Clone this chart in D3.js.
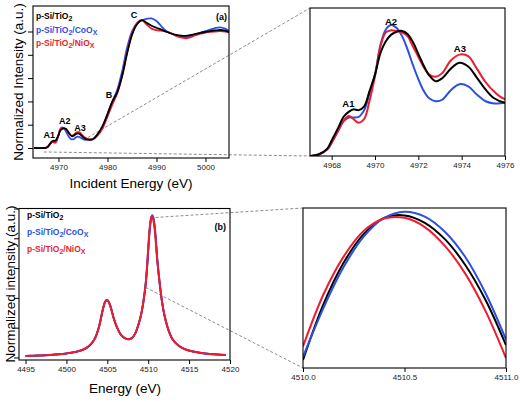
<!DOCTYPE html>
<html><head><meta charset="utf-8">
<script src="https://cdn.jsdelivr.net/npm/d3@7"></script>
<style>
body{margin:0;background:#fff}
svg{display:block;font-family:"Liberation Sans",Arial,Helvetica,sans-serif}
</style>
</head><body><svg id="c" width="520" height="402"></svg>
<script>
// ---------- DATA ----------
const seriesNames = ["p-Si/TiO2", "p-Si/TiO2/CoOx", "p-Si/TiO2/NiOx"];
const seriesColors = ["#000000", "#2b4fe3", "#ee1c2e"];

// Ti K-edge XANES (panel a / zoom)
const tiEnergy = [4965, 4967.0, 4967.4, 4967.8, 4968.0, 4968.3, 4968.55, 4968.8, 4969.0, 4969.25, 4969.5, 4969.75,
  4970.0, 4970.25, 4970.5, 4970.75, 4971.0, 4971.25, 4971.5, 4971.75, 4972.0, 4972.25, 4972.5, 4972.8, 4973.1,
  4973.5, 4973.9, 4974.3, 4974.7, 4975.1, 4975.5, 4976.0,
  4977, 4978, 4979, 4980, 4981, 4982, 4983, 4984, 4985, 4986, 4987, 4988, 4989, 4990, 4991, 4992, 4993, 4994,
  4995, 4996, 4997, 4998, 4999, 5000, 5001, 5002, 5003, 5004, 5005];
const tiBlack = [0, 0, 0.002, 0.010, 0.021, 0.038, 0.053, 0.060, 0.063, 0.062, 0.067, 0.088,
  0.110, 0.139, 0.155, 0.164, 0.168, 0.169, 0.165, 0.154, 0.138, 0.122, 0.109, 0.101, 0.105,
  0.118, 0.126, 0.121, 0.106, 0.090, 0.078, 0.072,
  0.075, 0.12, 0.19, 0.29, 0.40, 0.48, 0.62, 0.81, 0.97, 1.06, 1.098, 1.075, 1.05, 1.032, 1.016, 0.998, 0.983, 0.972,
  0.964, 0.963, 0.970, 0.980, 0.989, 0.996, 1.003, 1.009, 1.013, 1.008, 0.99];
const tiBlue = [0, 0, 0.002, 0.009, 0.018, 0.034, 0.047, 0.052, 0.052, 0.053, 0.062, 0.085,
  0.110, 0.150, 0.171, 0.177, 0.173, 0.162, 0.144, 0.123, 0.104, 0.088, 0.078, 0.074, 0.076,
  0.089, 0.097, 0.094, 0.083, 0.074, 0.071, 0.072,
  0.073, 0.11, 0.18, 0.29, 0.40, 0.50, 0.66, 0.86, 1.0, 1.07, 1.095, 1.108, 1.113, 1.09, 1.045, 1.005, 0.985, 0.966,
  0.953, 0.951, 0.958, 0.975, 0.99, 1.003, 1.017, 1.03, 1.036, 1.025, 0.998];
const tiRed = [0, 0, 0.002, 0.009, 0.018, 0.034, 0.048, 0.054, 0.050, 0.045, 0.050, 0.075,
  0.108, 0.148, 0.167, 0.170, 0.169, 0.167, 0.162, 0.148, 0.134, 0.120, 0.110, 0.107, 0.112,
  0.129, 0.137, 0.135, 0.118, 0.100, 0.087, 0.077,
  0.078, 0.11, 0.17, 0.27, 0.375, 0.47, 0.62, 0.82, 0.98, 1.07, 1.097, 1.06, 1.025, 1.012, 1.007, 1.0, 0.983, 0.962,
  0.95, 0.942, 0.952, 0.968, 0.982, 0.99, 0.996, 1.0, 1.004, 1.0, 0.99];

// Ti K-beta emission (panel b) - shared wings + series-specific top of main peak
const kbEnergy = [4495, 4496, 4497, 4498, 4499, 4500, 4501, 4502, 4502.5, 4503, 4503.5, 4504, 4504.4, 4504.7,
  4504.9, 4505.1, 4505.4, 4505.8, 4506.2, 4506.7, 4507.2, 4507.6, 4508.0, 4508.4, 4508.8, 4509.1, 4509.4,
  4509.7, 4509.85, 4511.15, 4511.4, 4511.7, 4512.0, 4512.5, 4513.0, 4513.7, 4514.5, 4515.5, 4516.5, 4517.5,
  4518.5, 4519.5];
const kbValue = [0.010, 0.012, 0.014, 0.017, 0.021, 0.027, 0.036, 0.052, 0.066, 0.09, 0.13, 0.21, 0.31, 0.37,
  0.385, 0.38, 0.34, 0.26, 0.20, 0.15, 0.128, 0.122, 0.13, 0.16, 0.22, 0.28, 0.37,
  0.50, 0.60, 0.63, 0.50, 0.37, 0.28, 0.18, 0.12, 0.08, 0.055, 0.04, 0.03, 0.024,
  0.02, 0.017];
const zoomEnergy = [4510.0, 4510.1, 4510.2, 4510.3, 4510.4, 4510.5, 4510.6, 4510.7, 4510.8, 4510.9, 4511.0];
const zoomBlack = [0.713, 0.803, 0.871, 0.918, 0.944, 0.948, 0.936, 0.909, 0.867, 0.810, 0.737];
const zoomBlue  = [0.718, 0.797, 0.864, 0.914, 0.944, 0.954, 0.946, 0.921, 0.880, 0.821, 0.746];
const zoomRed   = [0.735, 0.819, 0.881, 0.923, 0.943, 0.944, 0.929, 0.898, 0.853, 0.792, 0.716];

const ticksA = [4970, 4980, 4990, 5000];
const ticksR = [4968, 4970, 4972, 4974, 4976];
const ticksB = [4495, 4500, 4505, 4510, 4515, 4520];
const ticksD = [4510.0, 4510.5, 4511.0];
const yTicks = [0, 0.2, 0.4, 0.6, 0.8, 1.0];

// peak annotations [label, energy, intensity]
const labelsA = [["A1", 4968.1, 0.082], ["A2", 4971.3, 0.21], ["A3", 4974.4, 0.15], ["B", 4980.3, 0.433], ["C", 4985.4, 1.112]];
const labelsR = [["A1", 4968.77, 0.066], ["A2", 4970.74, 0.177], ["A3", 4973.92, 0.1405]];

// ---------- DRAW ----------
const svg = d3.select("#c");
const font = '"Liberation Sans",Arial,Helvetica,sans-serif';

const xA = d3.scaleLinear([4964.8, 5004.8], [33, 229]);
const yA = d3.scaleLinear([-0.0858, 1.219], [158, 6]);
const xR = d3.scaleLinear([4967, 4976], [310, 505]);
const yR = d3.scaleLinear([0, 0.2], [156, 8]);
const xB = d3.scaleLinear([4494.2, 4520], [19, 230]);
const yB = d3.scaleLinear([-0.017, 1.0], [360, 208.5]);
const xD = d3.scaleLinear([4510, 4511], [303, 506]);
const yD = d3.scaleLinear([0.70, 0.96], [368, 208]);

const tiSeries = [tiBlack, tiBlue, tiRed].map(v => tiEnergy.map((e, i) => [e, v[i]]));
const zoomSeries = [zoomBlack, zoomBlue, zoomRed].map(v => zoomEnergy.map((e, i) => [e, v[i]]));
const kbBase = kbEnergy.map((e, i) => [e, kbValue[i]]);
const kbSeries = zoomSeries.map(z => kbBase.concat(z).sort((a, b) => a[0] - b[0]));

let clipId = 0;
function panel(x, y, opts) {
  const [x0, x1] = x.range(), [y1, y0] = y.range();
  const id = "clip" + (clipId++);
  svg.append("clipPath").attr("id", id).append("rect")
    .attr("x", x0).attr("y", y0).attr("width", x1 - x0).attr("height", y1 - y0);
  const g = svg.append("g");
  const plot = g.append("g").attr("clip-path", `url(#${id})`);
  const line = d3.line().x(d => x(d[0])).y(d => y(d[1])).curve(d3.curveCatmullRom.alpha(0.5));
  opts.order.forEach(k => {
    plot.append("path").datum(opts.data[k]).attr("d", line)
      .attr("fill", "none").attr("stroke", seriesColors[k])
      .attr("stroke-width", opts.lws ? opts.lws[k] : opts.lw)
      .attr("stroke-linejoin", "round");
  });
  // frame
  g.append("rect").attr("x", x0).attr("y", y0).attr("width", x1 - x0).attr("height", y1 - y0)
    .attr("fill", "none").attr("stroke", "#000").attr("stroke-width", 1.1);
  // x axis
  const ax = g.append("g").attr("transform", `translate(0,${y1})`)
    .call(d3.axisBottom(x).tickValues(opts.xt).tickSize(4).tickPadding(2).tickFormat(opts.fmt || d3.format("d")));
  ax.select(".domain").remove();
  ax.selectAll("text").attr("font-size", 8).attr("font-family", font).attr("fill", "#222");
  ax.selectAll("line").attr("stroke", "#000");
  if (opts.yt) {
    const ay = g.append("g").attr("transform", `translate(${x0},0)`)
      .call(d3.axisLeft(y).tickValues(opts.yt).tickSize(5).tickFormat(""));
    ay.select(".domain").remove();
    ay.selectAll("line").attr("stroke", "#000");
  }
  return g;
}

function dashed(p1, p2) {
  svg.append("line").attr("x1", p1[0]).attr("y1", p1[1]).attr("x2", p2[0]).attr("y2", p2[1])
    .attr("stroke", "#7a8088").attr("stroke-width", 0.9).attr("stroke-dasharray", "3,2");
}

// zoom connector lines (drawn first)
dashed([xA(4976), yA(0.09)], [xR(4967), yR(0.2)]);
dashed([xA(4967), yA(-0.034)], [xR(4967), yR(0)]);
dashed([xB(4510.9), yB(0.94)], [xD(4510), yD(0.96)]);
dashed([xB(4509.7), yB(0.47)], [xD(4510), yD(0.70)]);

panel(xA, yA, {data: tiSeries, order: [1, 2, 0], lw: 1.8, xt: ticksA, yt: yTicks});
panel(xR, yR, {data: tiSeries, order: [1, 2, 0], lw: 2, xt: ticksR});
panel(xB, yB, {data: kbSeries, order: [0, 1, 2], lws: [1.6, 2, 2], xt: ticksB, yt: yTicks});
panel(xD, yD, {data: zoomSeries, order: [0, 1, 2], lw: 2, xt: ticksD, fmt: d3.format(".1f")});

// annotations
function labels(list, x, y, size) {
  list.forEach(l => svg.append("text").attr("x", x(l[1])).attr("y", y(l[2]))
    .attr("text-anchor", "middle").attr("font-weight", "bold").attr("font-size", size).text(l[0]));
}
labels(labelsA, xA, yA, 9);
labels(labelsR, xR, yR, 9.5);
svg.append("text").attr("x", xA(5004.4)).attr("y", yA(1.099)).attr("text-anchor", "end")
  .attr("font-weight", "bold").attr("font-size", 9).text("(a)");
svg.append("text").attr("x", xB(4519.5)).attr("y", yB(0.853)).attr("text-anchor", "end")
  .attr("font-weight", "bold").attr("font-size", 9).text("(b)");

// legends
function legend(x0, ys) {
  seriesNames.forEach((name, i) => {
    const t = svg.append("text").attr("x", x0).attr("y", ys[i]).attr("font-weight", "bold")
      .attr("font-size", 8.5).attr("fill", seriesColors[i]);
    const parts = name.match(/[^0-9x]+|[0-9x]/g);
    let shifted = false;
    parts.forEach(p => {
      if (/^[0-9x]$/.test(p)) {
        t.append("tspan").attr("dy", shifted ? 0 : 2).attr("font-size", 7).text(p.toUpperCase());
        shifted = true;
      } else {
        t.append("tspan").attr("dy", shifted ? -2 : 0).text(p);
        shifted = false;
      }
    });
  });
}
legend(36, [19, 33, 46]);
legend(27, [218, 235, 252]);

// axis titles
svg.append("text").attr("transform", "translate(23,82) rotate(-90)").attr("text-anchor", "middle")
  .attr("font-size", 13.5).text("Normalized Intensity (a.u.)");
svg.append("text").attr("x", 131).attr("y", 188).attr("text-anchor", "middle")
  .attr("font-size", 13.5).text("Incident Energy (eV)");
svg.append("text").attr("transform", "translate(15,284) rotate(-90)").attr("text-anchor", "middle")
  .attr("font-size", 13.5).text("Normalized intensity (a.u.)");
svg.append("text").attr("x", 125).attr("y", 393).attr("text-anchor", "middle")
  .attr("font-size", 13.5).text("Energy (eV)");
</script></body></html>
